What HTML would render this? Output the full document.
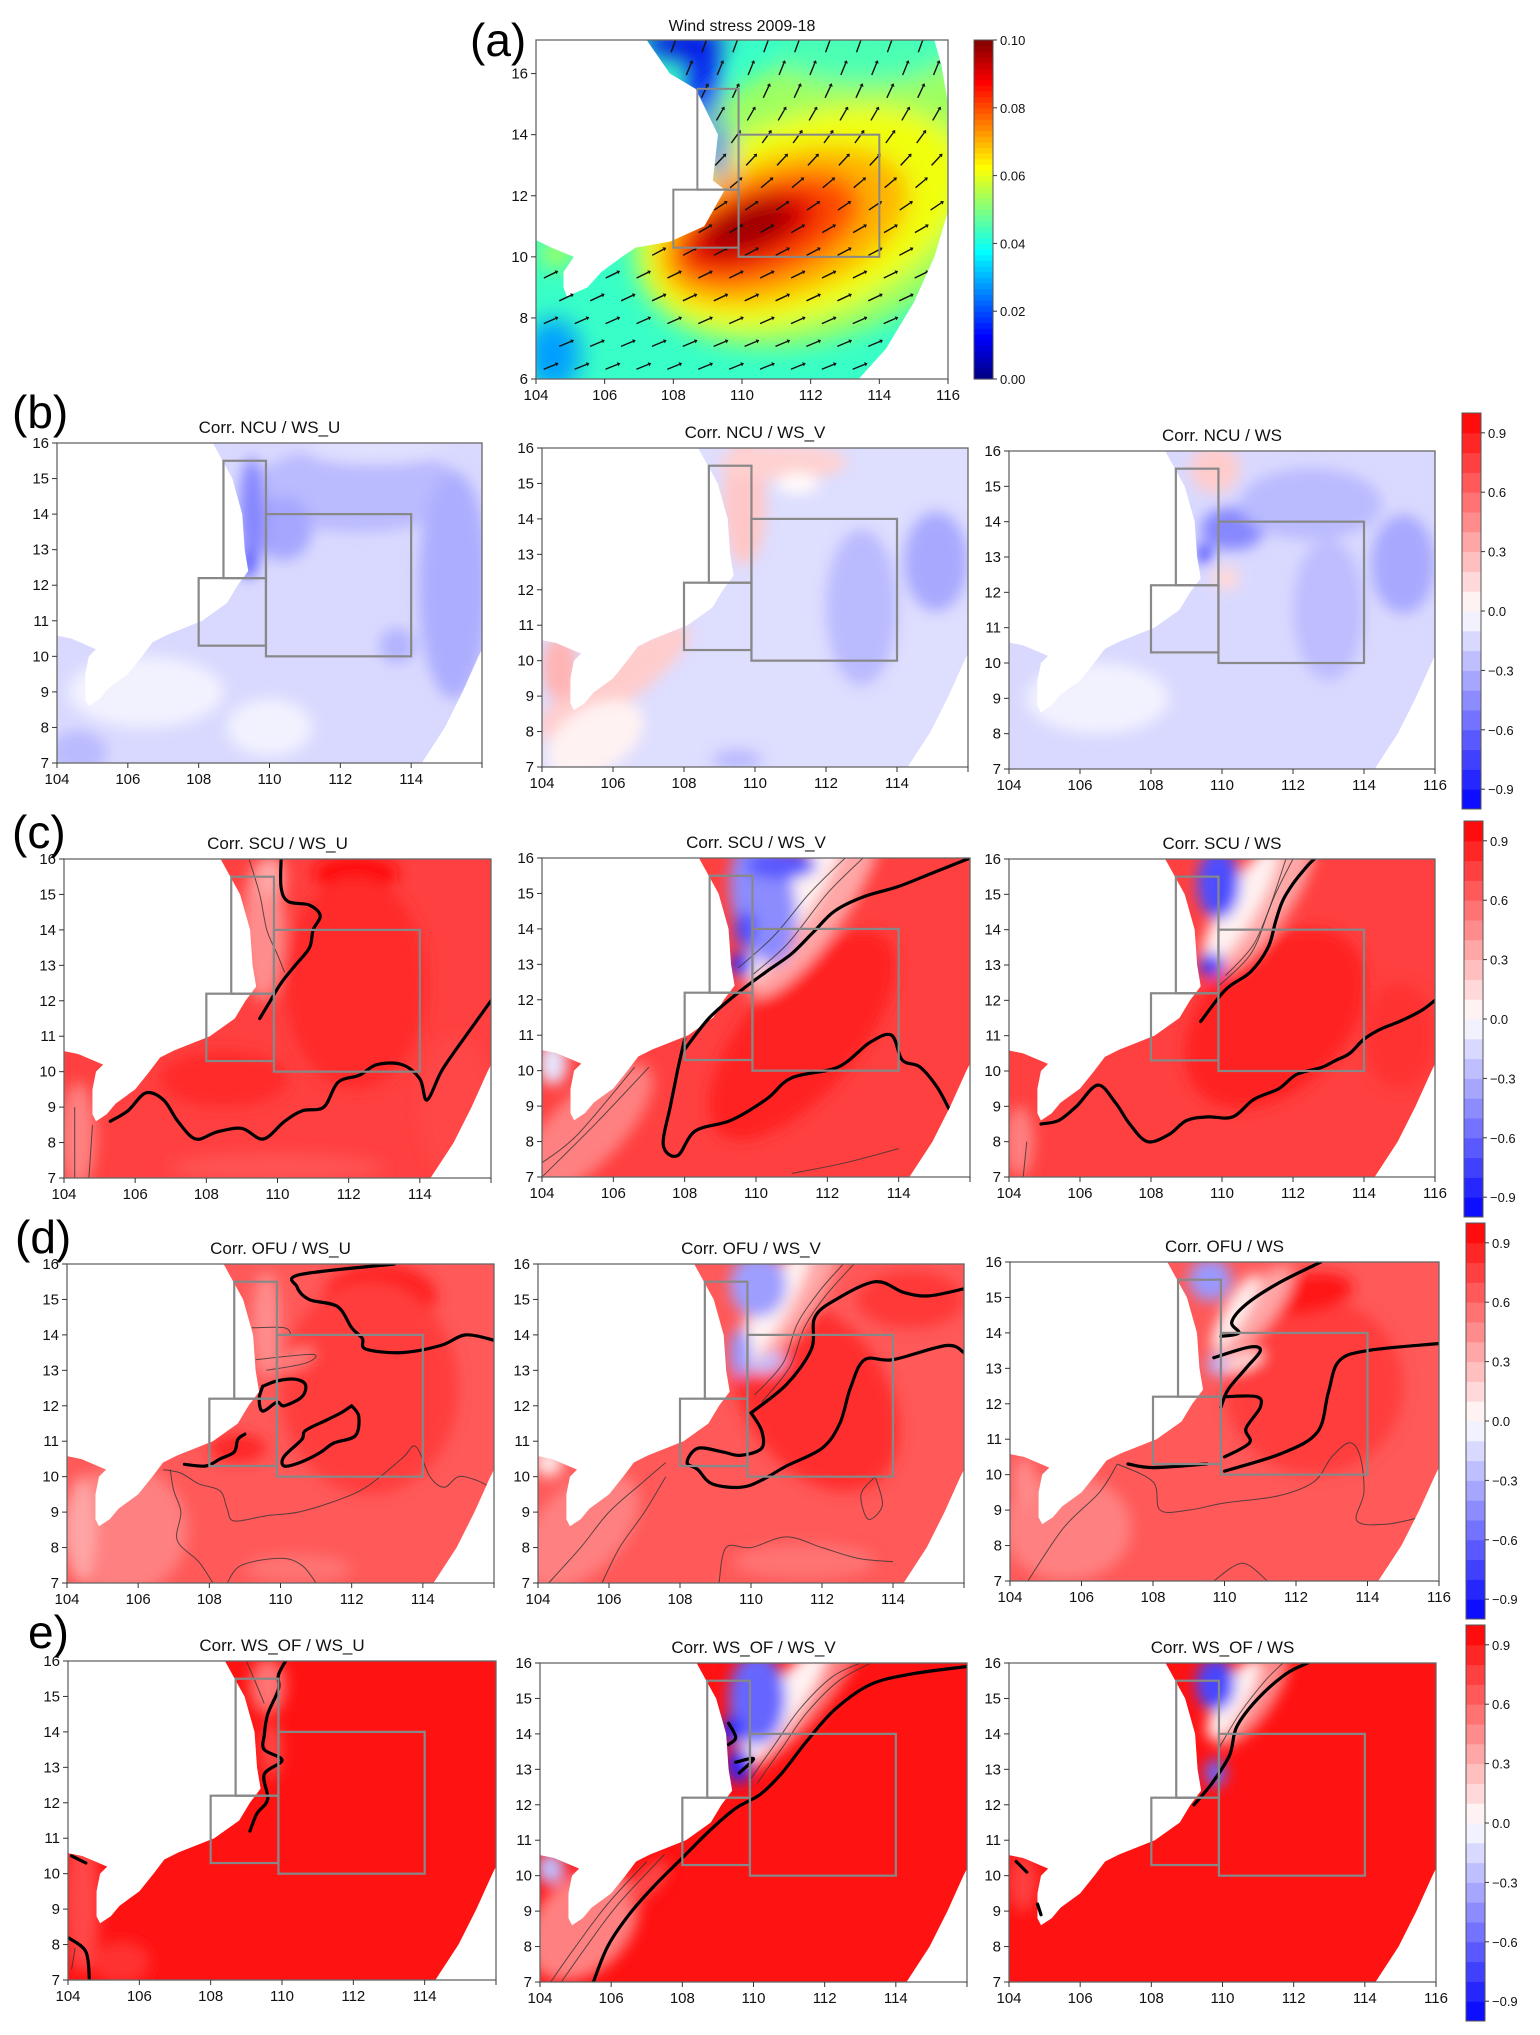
<!DOCTYPE html>
<html><head><meta charset="utf-8">
<style>
html,body{margin:0;padding:0;background:#fff;}
svg{display:block;font-family:"Liberation Sans",sans-serif;}
</style></head>
<body>
<svg id="fig" width="1540" height="2035" viewBox="0 0 1540 2035" xmlns="http://www.w3.org/2000/svg">
<defs>
<filter id="blur" x="-20%" y="-20%" width="140%" height="140%"><feGaussianBlur stdDeviation="7"/></filter>
<filter id="blurA" x="-20%" y="-20%" width="140%" height="140%"><feGaussianBlur stdDeviation="12"/></filter>
</defs>
</svg>
<script>
// ---------- data arrays ----------
const xTickLabels = [104,106,108,110,112,114,116];
const yTickLabelsA = [6,8,10,12,14,16];
const yTickLabels = [7,8,9,10,11,12,13,14,15,16];
const cbTicksCorr = [0.9,0.6,0.3,0.0,-0.3,-0.6,-0.9];
const cbTicksWind = [0.00,0.02,0.04,0.06,0.08,0.10];
const boxes = [[108.7,12.2,109.9,15.5],[108,10.3,109.9,12.2],[109.9,10,114,14]];
const coast = [[103.9,16.3],[108.3,16.3],[108.4,16],[108.95,15],[109.23,14],[109.3,13],[109.4,12.4],[109.1,12],[108.8,11.5],[108.1,11],[107.1,10.6],[106.7,10.4],[106.4,10],[106,9.5],[105.45,9.1],[105.2,8.8],[104.9,8.6],[104.8,8.8],[104.8,9.5],[104.9,10],[105.1,10.2],[104.4,10.5],[103.9,10.6]];
const coastA = [[103.9,17.3],[107.1,17.3],[107.9,16],[108.65,15.5],[109.3,14],[109.15,12.5],[109.5,12.2],[108.9,11],[107.9,10.5],[106.9,10.3],[106.5,10],[105.9,9.5],[105.5,9],[104.9,8.7],[104.8,9],[104.8,9.5],[105.1,10],[104.45,10.3],[103.9,10.6]];
const arcLower = [[114.3,7],[114.95,8],[115.45,9],[115.9,10],[116,10.2]];
const arcA = [[113.4,6],[114.2,7],[115,8.5],[115.6,10],[116,11.5],[116,15],[115.8,16.3],[115.6,17.1]];
// wind stress blobs: lon, lat, rx, ry, rot, value
const windBase = 0.043;
const windBlobs = [[112.5,12,6,4.5,-25,0.053],[111.8,11.3,5,3.2,-22,0.061],[111.2,11,3.8,2.3,-20,0.07],[110.7,10.9,2.9,1.6,-20,0.08],[110.3,10.9,2.1,1.05,-20,0.09],[110.2,11,1.4,0.7,-20,0.097],[113.5,16.6,2.5,0.9,0,0.045],[108.3,17,1.2,0.5,0,0.01],[108.9,15.6,0.45,1.2,0,0.012],[109.3,13.5,0.3,1,0,0.02],[104.5,6.8,0.8,1.2,0,0.028],[104.6,10.1,0.45,0.35,0,0.06]];
const arrowLats = [6.4,7.15,7.9,8.65,9.4,10.15,10.9,11.65,12.4,13.15,13.9,14.65,15.4,16.15,16.9];
const arrowAngles = [22,23,24,25,26,28,30,34,40,47,54,60,65,68,70];
const arrowLons = [104.4,105.3,106.2,107.1,108,108.9,109.8,110.7,111.6,112.5,113.4,114.3,115.2];
// correlation panels
const b1Blobs=[[112.5,14.7,3,1.2,0,-0.27],[115.2,12,1,3.2,0,-0.32],[110.4,13.6,0.8,0.9,0,-0.35],[109.5,14,0.35,1.6,0,-0.48],[109.4,12.6,0.2,0.4,0,-0.7],[106.5,9,2.2,1,0,-0.05],[110,8,1.2,0.8,0,-0.05],[113.6,10.3,0.5,0.5,0,-0.3],[104.6,7.3,0.8,0.6,0,-0.27],[113,15.8,2,0.4,0,-0.12]];
const b2Blobs=[[109.7,14.5,0.6,1.8,0,0.22],[110.8,15.6,1.8,0.5,0,0.18],[111.2,15.0,0.6,0.3,0,0.02],[106,9.4,2.6,0.7,-35,0.2],[104.5,9.8,0.5,0.9,0,0.3],[105.5,7.8,1.5,0.9,-30,0.05],[115.1,12.8,0.9,1.4,0,-0.34],[113,11.5,1,2.2,0,-0.27],[109.5,7.2,0.7,0.3,0,-0.27]];
const b3Blobs=[[109.8,15.5,0.7,0.7,0,0.2],[110.1,12.4,0.4,0.35,0,0.15],[110.3,13.8,0.9,0.6,0,-0.47],[109.5,13.1,0.2,0.3,0,-0.75],[112.5,14.5,2,1,0,-0.27],[115.1,12.8,0.9,1.4,0,-0.34],[113,11.5,1,2,0,-0.26],[106.5,9,2,1,0,-0.05]];
const c1Blobs=[[112.2,15.6,1.2,0.5,0,0.95],[112.2,12.5,2,3,0,0.83],[108.5,9.8,1.8,0.8,0,0.84],[109.6,14,0.6,2,0,0.45],[109.8,15.5,0.4,0.6,0,0.35],[104.4,8.2,0.5,1.5,0,0.5],[110,7.3,3,0.4,0,0.68],[115,9,1,2,0,0.72]];
const c2Blobs=[[111.3,11,3.6,1.6,-50,0.86],[105.2,8.3,2.5,1,-45,0.5],[104.3,10.2,0.4,0.6,0,-0.1],[111.6,14.6,3,0.9,-55,0.35],[111.1,14.8,2.6,0.5,-58,0.05],[110.2,14.8,0.9,1.8,-10,-0.45],[110.7,15.8,1,0.4,0,-0.65],[109.6,13,0.3,0.35,0,-0.85],[109.7,14,0.3,0.5,0,-0.7]];
const c3Blobs=[[111.5,11.5,3,2,-45,0.86],[115,11,1,1.5,0,0.8],[104.3,8,0.4,1,0,0.5],[111,14.8,2.5,0.9,-55,0.35],[110.5,14.6,2,0.45,-60,0.05],[109.9,15.3,0.6,1,0,-0.7],[109.7,13,0.35,0.35,0,-0.75]];
const d1Blobs=[[112.8,15.1,1.6,0.9,0,0.87],[112.5,12.5,2.5,3,0,0.76],[108.8,10.8,0.8,0.4,0,0.85],[105.6,8.5,1.8,1.8,0,0.5],[104.4,8.5,0.4,1.5,0,0.35],[109.6,14.3,0.4,1.5,0,0.45],[110.4,13.3,0.6,0.25,-25,0.5],[110.5,7.4,1.5,0.4,0,0.55]];
const d2Blobs=[[111.8,12.3,2,3,-35,0.82],[114.5,15,1.5,0.8,0,0.78],[105.2,8.5,2,1.2,-45,0.5],[104.3,10.4,0.4,0.4,0,0.1],[111,15,2.5,0.8,-55,0.35],[110.6,14.7,2,0.4,-60,0.05],[110.2,15.4,0.8,0.9,0,-0.38],[109.7,13.5,0.3,0.7,0,-0.4],[110.5,13.2,0.5,0.25,-20,-0.25],[111.5,7.6,2,0.5,0,0.55]];
const d3Blobs=[[112.5,12.5,2.5,2.5,0,0.76],[112.3,15.1,1.3,0.55,-10,0.9],[105.6,8.5,1.8,1.5,0,0.5],[104.4,9.8,0.3,0.7,0,0.45],[110.8,14.6,1.6,0.55,-50,0.35],[110.3,14.6,1.2,0.3,-60,0.05],[109.6,15.5,0.6,0.6,0,-0.4],[109.8,13.1,0.3,0.3,0,-0.3],[110.5,13.2,0.6,0.2,-20,0.1]];
const e1Blobs=[[104.4,9.2,0.5,2,0,0.72],[109.6,15.3,0.5,0.8,0,0.55],[109.7,13.5,0.3,0.8,0,0.72],[105.5,7.5,0.8,0.6,0,0.8]];
const e2Blobs=[[105.2,8.6,1.8,1.3,-45,0.5],[104.3,10.2,0.4,0.45,0,-0.25],[107,9.8,0.8,0.3,-45,0.7],[111.3,15,2.6,0.7,-50,0.5],[110.8,14.8,2.1,0.5,-55,0.05],[110.1,15,0.8,1.3,0,-0.6],[109.6,13.1,0.35,0.5,0,-0.85],[109.4,14.1,0.3,0.4,0,-0.85]];
const e3Blobs=[[110.8,15,1.6,0.6,-55,0.45],[110.3,15,1.3,0.4,-60,0.05],[109.8,15.4,0.55,0.75,0,-0.72],[109.8,12.9,0.3,0.4,0,-0.6],[104.4,9.8,0.4,0.8,0,0.75]];
// contours (lon, lat) thick and thin
const c1Thick=[[[110.1,16],[110.1,15.2],[110.3,14.8],[110.9,14.7],[111.2,14.4],[111,14],[110.9,13.5],[110.5,13],[110.1,12.5],[109.8,12],[109.5,11.5]],[[105.3,8.6],[105.8,8.9],[106.3,9.4],[106.8,9.2],[107.2,8.6],[107.7,8.1],[108.3,8.3],[109,8.4],[109.6,8.1],[110.2,8.6],[110.7,8.9],[111.3,9.0],[111.7,9.7],[112.3,9.9],[112.8,10.2],[113.5,10.2],[114,9.8],[114.2,9.2],[114.6,10],[115,10.6],[115.5,11.3],[116,12]]];
const c1Thin=[[[109.2,16],[109.5,15],[109.7,14],[110,13.3],[110.2,12.8]],[[104.7,7],[104.8,8.5]],[[104.3,7],[104.3,9]]];
const c2Thick=[[[108,10.6],[108.7,11.5],[109.5,12.2],[110.3,12.8],[111,13.3],[111.6,13.9],[112.2,14.5],[113,14.9],[114,15.2],[115,15.6],[116,16]],[[108,10.9],[107.8,10],[107.6,9],[107.4,7.9],[107.8,7.6],[108.3,8.3],[109.3,8.6],[110.3,9.2],[111,9.8],[112.3,10.1],[113.2,10.8],[113.8,11],[114.1,10.3],[114.6,10.1],[115.1,9.5],[115.6,8.6],[116,8.3]]];
const c2Thin=[[[109.5,12.9],[110.5,13.8],[111.5,15],[112.5,16]],[[109.9,12.7],[110.9,13.6],[112,15],[113,16]],[[104,7],[105.5,8.5],[107,10.1]],[[104,7.4],[105,8.2],[106.6,10.1]],[[111,7.1],[112.5,7.4],[114,7.8]]];
const c3Thick=[[[109.4,11.4],[110.1,12.3],[110.8,12.8],[111.3,13.5],[111.5,14.2],[111.7,14.8],[112,15.3],[112.4,15.8],[112.6,16]],[[104.9,8.5],[105.4,8.6],[105.9,9],[106.5,9.6],[107,9.1],[107.4,8.5],[107.9,8.0],[108.5,8.2],[109,8.6],[109.6,8.7],[110.3,8.7],[110.9,9.2],[111.6,9.5],[112.1,9.9],[112.8,10.1],[113.2,10.3],[113.6,10.5],[114,10.9],[114.5,11.2],[115,11.4],[115.6,11.7],[116,12]]];
const c3Thin=[[[109.9,12.4],[110.8,13.3],[111.3,14.5],[111.8,16]],[[110.1,12.7],[110.9,13.6],[111.5,15],[112,16]],[[104.4,7],[104.5,8]]];
const d1Thick=[[[113.2,16],[110.55,15.7],[110.46,15.36],[110.8,15],[111.6,14.8],[112,14.2],[112.3,13.9],[112.4,13.6],[113.4,13.5],[114.5,13.7],[115.2,14],[116,13.85]],[[109.5,12.55],[109.9,12.7],[110.4,12.75],[110.7,12.6],[110.6,12.25],[110.1,12],[109.9,12.1],[109.5,11.85],[109.4,12.2],[109.5,12.55]],[[112,12],[112.2,11.7],[112.1,11.15],[111.5,10.95],[111.1,10.67],[110.55,10.4],[110.1,10.3],[110.1,10.57],[110.6,11.05],[110.7,11.3],[111.3,11.6],[111.7,11.8],[112,12]],[[107.3,10.35],[107.9,10.3],[108.3,10.5],[108.7,10.7],[108.8,11.05],[109,11.2]]];
const d1Thin=[[[106.7,10.2],[107.2,10.1],[107.7,9.8],[108.3,9.6],[108.5,9.1],[108.7,8.75],[109.6,8.9],[110.5,9],[111.5,9.3],[112.4,9.7],[113.4,10.5],[113.8,10.85],[114.2,10],[114.6,9.7],[115,10],[115.5,9.9],[115.9,9.7]],[[106.9,10.2],[107,9.6],[107.2,9],[107.1,8.2],[107.7,7.6],[108.1,7]],[[108.5,7],[108.9,7.5],[110,7.7],[110.6,7.5],[111,7]],[[109.2,14.2],[110.1,14.2],[110.3,14]],[[109.3,13.3],[110.9,13.45],[110.7,13.2],[109.6,13]]];
const d2Thick=[[[110,11.8],[111,12.6],[111.7,13.6],[111.8,14.5],[112.4,15],[113.5,15.5],[114.3,15.2],[115,15.1],[116,15.3]],[[116,13.5],[115.5,13.7],[114,13.3],[113.2,13.3],[112.8,12.5],[112.5,11.5],[112,10.8],[111,10.3],[110.3,9.9],[109.7,9.7],[108.9,9.8],[108.5,10.2],[108.2,10.4],[108.5,10.8],[109.2,10.7],[109.7,10.6],[110.3,10.8],[110.3,11.3],[110,11.8]]];
const d2Thin=[[[110.1,12.3],[110.9,13.2],[111.3,14.3],[111.9,15.2],[112.6,16]],[[110.3,12.1],[111.1,13.1],[111.5,14.2],[112.1,15.1],[112.9,16]],[[104.3,7],[105.2,8],[106,9],[106.9,9.8],[107.6,10.4]],[[105.8,7],[106.3,8],[107,9],[107.6,10]],[[109.1,7],[109.3,8],[110,8],[111,8.3],[112,8],[113,7.7],[114,7.6]],[[113.5,10],[113.1,9.5],[113.3,8.8],[113.7,9.2],[113.5,10]]];
const d3Thick=[[[112.7,16],[111.5,15.4],[110.6,14.8],[110.2,14.3],[110.4,14.0],[109.9,13.9]],[[109.7,13.3],[110.7,13.6],[111,13.5],[110.6,13.0],[110.1,12.4],[109.9,11.9]],[[116,13.7],[114,13.5],[113.2,13.2],[112.9,12.3],[112.6,11.2],[111.6,10.6],[110,10.1]],[[110,12.2],[110.9,12.2],[111,11.9],[110.6,11.3],[110.7,10.9],[110,10.5]],[[107.3,10.3],[108,10.2],[109.5,10.3]]];
const d3Thin=[[[104.5,7],[105.5,8.5],[106.5,9.5],[107,10.3]],[[107,10.3],[108,9.8],[108.2,9],[109,9],[110,9.2],[111.5,9.4],[112.5,9.8],[113,10.5],[113.5,10.9],[113.8,10.5],[113.9,9.5],[113.7,8.7],[114.5,8.6],[115.5,8.8]],[[109.7,7],[110.5,7.5],[111.2,7]]];
const e1Thick=[[[110.1,16],[109.9,15.6],[109.9,15.2],[109.6,14.5],[109.5,13.9],[109.5,13.5],[110,13.2],[109.5,12.8],[109.6,12.1],[109.3,11.7],[109.1,11.2]],[[104,8.2],[104.5,7.8],[104.6,7]],[[104.1,10.5],[104.5,10.3]]];
const e1Thin=[[[109.0,16],[109.3,15.3],[109.5,14.8]],[[104.1,7.3],[104.2,7.9]]];
const e2Thick=[[[105.5,7],[105.9,8],[106.5,8.9],[107.2,9.7],[108,10.5],[108.8,11.3],[109.5,11.9],[110.2,12.3],[110.8,12.9],[111.5,13.8],[112.3,14.7],[113.3,15.4],[114.5,15.7],[116,15.9]],[[109.3,14.3],[109.5,13.9],[109.3,13.7]],[[109.5,13.2],[110,13.3],[109.6,12.9]]];
const e2Thin=[[[104.3,7],[105,8],[105.9,9.2],[107,10.4]],[[104.6,7],[105.3,8],[106.2,9.2],[107.5,10.6]],[[109.9,12.7],[110.6,13.7],[111.3,14.7],[112.2,15.6],[113,16]],[[110.1,12.6],[110.8,13.6],[111.5,14.6],[112.4,15.5],[113.3,16]]];
const e3Thick=[[[109.2,12],[109.7,12.6],[110.2,13.4],[110.4,14.2],[111,15],[111.8,15.7],[112.4,16]],[[104.2,10.4],[104.5,10.1]],[[104.8,9.2],[104.9,8.9]]];
const e3Thin=[[[109.9,13.6],[110.5,14.6],[111.2,15.5],[111.7,16]]];

const panels=[
 {id:'b1',x0:57,x1:482,y0:443,y1:763,base:-0.15,blobs:b1Blobs,thick:[],thin:[],title:'Corr. NCU / WS_U',x116:false},
 {id:'b2',x0:542,x1:968,y0:448,y1:767,base:-0.13,blobs:b2Blobs,thick:[],thin:[],title:'Corr. NCU / WS_V',x116:false},
 {id:'b3',x0:1009,x1:1435,y0:451,y1:769,base:-0.15,blobs:b3Blobs,thick:[],thin:[],title:'Corr. NCU / WS',x116:true},
 {id:'c1',x0:64,x1:491,y0:859,y1:1178,base:0.75,blobs:c1Blobs,thick:c1Thick,thin:c1Thin,title:'Corr. SCU / WS_U',x116:false},
 {id:'c2',x0:542,x1:970,y0:858,y1:1177,base:0.75,blobs:c2Blobs,thick:c2Thick,thin:c2Thin,title:'Corr. SCU / WS_V',x116:false},
 {id:'c3',x0:1009,x1:1435,y0:859,y1:1177,base:0.75,blobs:c3Blobs,thick:c3Thick,thin:c3Thin,title:'Corr. SCU / WS',x116:true},
 {id:'d1',x0:67,x1:494,y0:1264,y1:1583,base:0.65,blobs:d1Blobs,thick:d1Thick,thin:d1Thin,title:'Corr. OFU / WS_U',x116:false},
 {id:'d2',x0:538,x1:964,y0:1264,y1:1583,base:0.65,blobs:d2Blobs,thick:d2Thick,thin:d2Thin,title:'Corr. OFU / WS_V',x116:false},
 {id:'d3',x0:1010,x1:1439,y0:1262,y1:1581,base:0.65,blobs:d3Blobs,thick:d3Thick,thin:d3Thin,title:'Corr. OFU / WS',x116:true},
 {id:'e1',x0:68,x1:496,y0:1661,y1:1980,base:0.93,blobs:e1Blobs,thick:e1Thick,thin:e1Thin,title:'Corr. WS_OF / WS_U',x116:false},
 {id:'e2',x0:540,x1:967,y0:1663,y1:1982,base:0.93,blobs:e2Blobs,thick:e2Thick,thin:e2Thin,title:'Corr. WS_OF / WS_V',x116:false},
 {id:'e3',x0:1009,x1:1436,y0:1663,y1:1982,base:0.93,blobs:e3Blobs,thick:e3Thick,thin:e3Thin,title:'Corr. WS_OF / WS',x116:true}
];
const corrBars=[{x:1462,y0:413,y1:809},{x:1464,y0:821,y1:1217},{x:1466,y0:1223,y1:1619},{x:1466,y0:1625,y1:2021}];
const rowLabels=[['(a)',470,56],['(b)',12,428],['(c)',12,848],['(d)',15,1253],['e)',28,1648]];

// ---------- helpers ----------
const NS='http://www.w3.org/2000/svg';
const svg=document.getElementById('fig');
function mk(tag,attrs,parent){const e=document.createElementNS(NS,tag);for(const k in attrs)e.setAttribute(k,attrs[k]);(parent||svg).appendChild(e);return e;}
function bwr(v){v=Math.max(-1,Math.min(1,v));let r,g,b;if(v>=0){r=255;g=b=Math.round(255*(1-v));}else{b=255;r=g=Math.round(255*(1+v));}return `rgb(${r},${g},${b})`;}
function jet(v){const t=Math.max(0,Math.min(1,v/0.1));const c=x=>Math.round(255*Math.max(0,Math.min(1,x)));
 const r=1.5-Math.abs(4*t-3), g=1.5-Math.abs(4*t-2), b=1.5-Math.abs(4*t-1);return `rgb(${c(r)},${c(g)},${c(b)})`;}
function smoothPath(pts,closed){if(pts.length<2)return '';let d=`M${pts[0][0].toFixed(1)},${pts[0][1].toFixed(1)}`;
 for(let i=0;i<pts.length-1;i++){const p0=pts[i-1]||pts[i],p1=pts[i],p2=pts[i+1],p3=pts[i+2]||p2;
  const c1=[p1[0]+(p2[0]-p0[0])/6,p1[1]+(p2[1]-p0[1])/6],c2=[p2[0]-(p3[0]-p1[0])/6,p2[1]-(p3[1]-p1[1])/6];
  d+=`C${c1[0].toFixed(1)},${c1[1].toFixed(1)} ${c2[0].toFixed(1)},${c2[1].toFixed(1)} ${p2[0].toFixed(1)},${p2[1].toFixed(1)}`;}
 return d+(closed?'Z':'');}
function inPoly(pt,poly){let ins=false;for(let i=0,j=poly.length-1;i<poly.length;j=i++){const xi=poly[i][0],yi=poly[i][1],xj=poly[j][0],yj=poly[j][1];
 if(((yi>pt[1])!==(yj>pt[1]))&&(pt[0]<(xj-xi)*(pt[1]-yi)/(yj-yi)+xi))ins=!ins;}return ins;}
function domainPoly(latMin,latMax,arc){const dom=[[104,latMin],[104,latMax],[116,latMax]];
 for(let i=arc.length-1;i>=0;i--)dom.push(arc[i]);return dom;}

function drawAxes(p,g,latMin,latMax,yTicks,show116){
 const fx=lon=>p.x0+(lon-104)*(p.x1-p.x0)/12, fy=lat=>p.y1-(lat-latMin)*(p.y1-p.y0)/(latMax-latMin);
 const fr=mk('rect',{x:p.x0,y:p.y0,width:p.x1-p.x0,height:p.y1-p.y0,fill:'none',stroke:'#666','stroke-width':1.3},g);
 
 xTickLabels.forEach(v=>{if(v===116&&!show116)return;const x=fx(v);
  mk('line',{x1:x,y1:p.y1,x2:x,y2:p.y1+5,stroke:'#333','stroke-width':1},g);
  const t=mk('text',{x:x,y:p.y1+21,'font-size':15,'text-anchor':'middle',fill:'#111'},g);t.textContent=v;
  });
 if(!show116){const x=fx(116);mk('line',{x1:x,y1:p.y1,x2:x,y2:p.y1+5,stroke:'#333','stroke-width':1},g);}
 yTicks.forEach(v=>{const y=fy(v);
  mk('line',{x1:p.x0-5,y1:y,x2:p.x0,y2:y,stroke:'#333','stroke-width':1},g);
  const t=mk('text',{x:p.x0-8,y:y+5,'font-size':15,'text-anchor':'end',fill:'#111'},g);t.textContent=v;
  });
 return {fx,fy};
}

function drawField(p,latMin,latMax,baseColor,blobs,colorFn,land,arc,filterId){
 const fx=lon=>p.x0+(lon-104)*(p.x1-p.x0)/12, fy=lat=>p.y1-(lat-latMin)*(p.y1-p.y0)/(latMax-latMin);
 const sx=(p.x1-p.x0)/12, sy=(p.y1-p.y0)/(latMax-latMin);
 const dom=domainPoly(latMin,latMax,arc);
 const cid='clip-'+p.id;
 const cp=mk('clipPath',{id:cid});
 mk('polygon',{points:dom.map(q=>fx(Math.min(116,q[0]))+','+fy(Math.max(latMin,Math.min(latMax,q[1])))).join(' ')},cp);
 const g=mk('g',{'clip-path':`url(#${cid})`});
 
 mk('rect',{x:p.x0,y:p.y0,width:p.x1-p.x0,height:p.y1-p.y0,fill:baseColor},g);
 const bg=mk('g',{filter:`url(#${filterId})`},g);
 blobs.forEach(b=>{const e=mk('ellipse',{cx:fx(b[0]),cy:fy(b[1]),rx:b[2]*sx,ry:b[3]*sy,fill:colorFn(b[5]),transform:`rotate(${b[4]} ${fx(b[0])} ${fy(b[1])})`},bg);
  });
 const lp=mk('polygon',{points:land.map(q=>fx(q[0])+','+fy(Math.min(latMax+0.5,q[1]))).join(' '),fill:'#fff'},g);
 
 return {g,fx,fy,dom};
}

// ---------- panel (a) ----------
(function(){
 const p={id:'a',x0:536,x1:948,y0:40,y1:379};
 const latMin=6, latMax=17.1;
 const f=drawField(p,latMin,latMax,jet(windBase),windBlobs,jet,coastA,arcA,'blurA');
 const ag=mk('g',{},f.g);
 arrowLats.forEach((lat,ri)=>{const ang=arrowAngles[ri]*Math.PI/180;
  arrowLons.forEach((lon0)=>{const lon=lon0+(ri%2?0.45:0);
   if(inPoly([lon,lat],coastA)||!inPoly([lon,lat],f.dom))return;
   const x=f.fx(lon),y=f.fy(lat),L=13,dx=L*Math.cos(ang),dy=-L*Math.sin(ang);
   const a=mk('line',{x1:x-dx/2,y1:y-dy/2,x2:x+dx/2,y2:y+dy/2,stroke:'#111','stroke-width':1.4},ag);
   
   const hx=x+dx/2,hy=y+dy/2,ux=dx/L,uy=dy/L;
   mk('polygon',{points:`${hx+ux*3},${hy+uy*3} ${hx-uy*2.2},${hy+ux*2.2} ${hx+uy*2.2},${hy-ux*2.2}`,fill:'#111'},ag);
  });});
 boxes.forEach(b=>{const r=mk('rect',{x:f.fx(b[0]),y:f.fy(b[3]),width:f.fx(b[2])-f.fx(b[0]),height:f.fy(b[1])-f.fy(b[3]),fill:'none',stroke:'#888','stroke-width':2});
  });
 const ax=mk('g',{});
 drawAxes(p,ax,latMin,latMax,yTickLabelsA,true);
 const t=mk('text',{x:742,y:31,'font-size':16,'text-anchor':'middle',fill:'#111'});t.textContent='Wind stress 2009-18';
 
 const cbx=974,cbw=19,cy0=40,cy1=379;
 const cb=mk('g',{});
 const N=60;for(let i=0;i<N;i++){const v=0.1*(i+0.5)/N;const y=cy1-(i+1)*(cy1-cy0)/N;
  mk('rect',{x:cbx,y:y,width:cbw,height:(cy1-cy0)/N+0.6,fill:jet(v)},cb);}
 mk('rect',{x:cbx,y:cy0,width:cbw,height:cy1-cy0,fill:'none',stroke:'#555','stroke-width':1},cb);
 cbTicksWind.forEach(v=>{const y=cy1-v/0.1*(cy1-cy0);mk('line',{x1:cbx+cbw,y1:y,x2:cbx+cbw+4,y2:y,stroke:'#333'},cb);
  const tt=mk('text',{x:cbx+cbw+7,y:y+5,'font-size':13,fill:'#111'},cb);tt.textContent=v.toFixed(2);
  });
})();

// ---------- correlation panels ----------
panels.forEach(p=>{
 const latMin=7,latMax=16;
 const f=drawField(p,latMin,latMax,bwr(p.base),p.blobs,bwr,coast,arcLower,'blur');
 const cg=mk('g',{},f.g);
 p.thin.forEach(line=>{const pts=line.map(q=>[f.fx(q[0]),f.fy(q[1])]);
  const e=mk('path',{d:smoothPath(pts,false),fill:'none',stroke:'#333','stroke-width':1,'stroke-opacity':0.8},cg);
  });
 p.thick.forEach(line=>{const pts=line.map(q=>[f.fx(q[0]),f.fy(q[1])]);
  const e=mk('path',{d:smoothPath(pts,false),fill:'none',stroke:'#000','stroke-width':3.2,'stroke-linejoin':'round','stroke-linecap':'round'},cg);
  });
 boxes.forEach(b=>{const r=mk('rect',{x:f.fx(b[0]),y:f.fy(b[3]),width:f.fx(b[2])-f.fx(b[0]),height:f.fy(b[1])-f.fy(b[3]),fill:'none',stroke:'#888','stroke-width':2.2});
  });
 const ax=mk('g',{});
 drawAxes(p,ax,latMin,latMax,yTickLabels,p.x116);
 const t=mk('text',{x:(p.x0+p.x1)/2,y:p.y0-10,'font-size':17,'text-anchor':'middle',fill:'#111'});t.textContent=p.title;
 
});

// ---------- correlation colorbars ----------
corrBars.forEach(c=>{
 const cb=mk('g',{});
 const w=19,N=20,h=(c.y1-c.y0)/N;
 for(let i=0;i<N;i++){const v=-1+(i+0.5)*0.1;const y=c.y1-(i+1)*h;mk('rect',{x:c.x,y:y,width:w,height:h+0.5,fill:bwr(v)},cb);}
 mk('rect',{x:c.x,y:c.y0,width:w,height:c.y1-c.y0,fill:'none',stroke:'#555','stroke-width':1},cb);
 cbTicksCorr.forEach(v=>{const y=c.y1-(v+1)/2*(c.y1-c.y0);mk('line',{x1:c.x+w,y1:y,x2:c.x+w+4,y2:y,stroke:'#333'},cb);
  const tt=mk('text',{x:c.x+w+7,y:y+5,'font-size':13,fill:'#111'},cb);tt.textContent=(v<0?'\u2212':'')+Math.abs(v).toFixed(1);
  });
});

// ---------- row labels ----------
rowLabels.forEach(r=>{const t=mk('text',{x:r[1],y:r[2],'font-size':46,fill:'#000'});t.textContent=r[0];
 });
</script>
</body></html>
